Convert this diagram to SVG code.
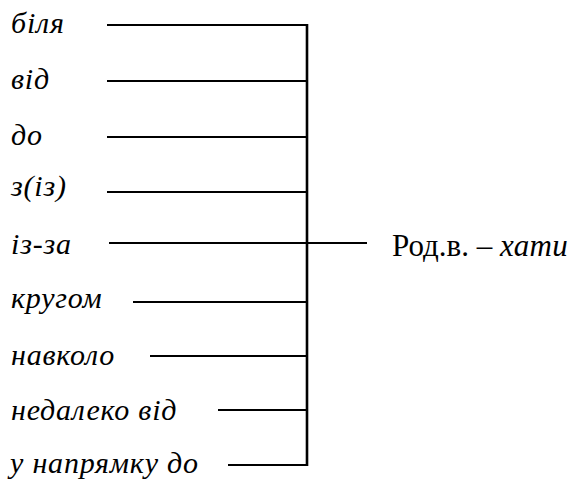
<svg xmlns="http://www.w3.org/2000/svg" width="575" height="479" viewBox="0 0 575 479">
<style>
.t{font-family:"Liberation Serif","Times New Roman",serif;font-size:30px;fill:#000}
.i{font-style:italic;letter-spacing:0.8px}
.c line{stroke:#000;stroke-width:2}
</style>
<rect width="575" height="479" fill="#fff"/>
<g id="n1"><text class="t i" x="11" y="33">біля</text></g>
<g id="n2"><text class="t i" x="11" y="89">від</text></g>
<g id="n3"><text class="t i" x="11" y="145">до</text></g>
<g id="n4"><text class="t i" x="11" y="196">з(із)</text></g>
<g id="n5"><text class="t i" x="11" y="254">із-за</text></g>
<g id="n6"><text class="t i" x="11" y="308">кругом</text></g>
<g id="n7"><text class="t i" x="11" y="365">навколо</text></g>
<g id="n8"><text class="t i" x="11" y="420">недалеко від</text></g>
<g id="n9"><text class="t i" x="10" y="473">у напрямку до</text></g>
<g id="n10"><text class="t" x="392" y="256" style="font-size:31px">Род.в. – <tspan class="i" style="letter-spacing:0.3px">хати</tspan></text></g>
<g id="connectors" class="c">
<line x1="307" y1="24" x2="307" y2="466" style="stroke-width:2.6"/>
<line x1="107" y1="25" x2="308" y2="25"/>
<line x1="107" y1="81" x2="308" y2="81"/>
<line x1="107" y1="137" x2="308" y2="137"/>
<line x1="107" y1="192" x2="308" y2="192"/>
<line x1="109" y1="243" x2="367" y2="243"/>
<line x1="133" y1="302" x2="308" y2="302"/>
<line x1="150" y1="356" x2="308" y2="356"/>
<line x1="218" y1="410" x2="308" y2="410"/>
<line x1="228" y1="465" x2="308" y2="465"/>
</g>
</svg>
